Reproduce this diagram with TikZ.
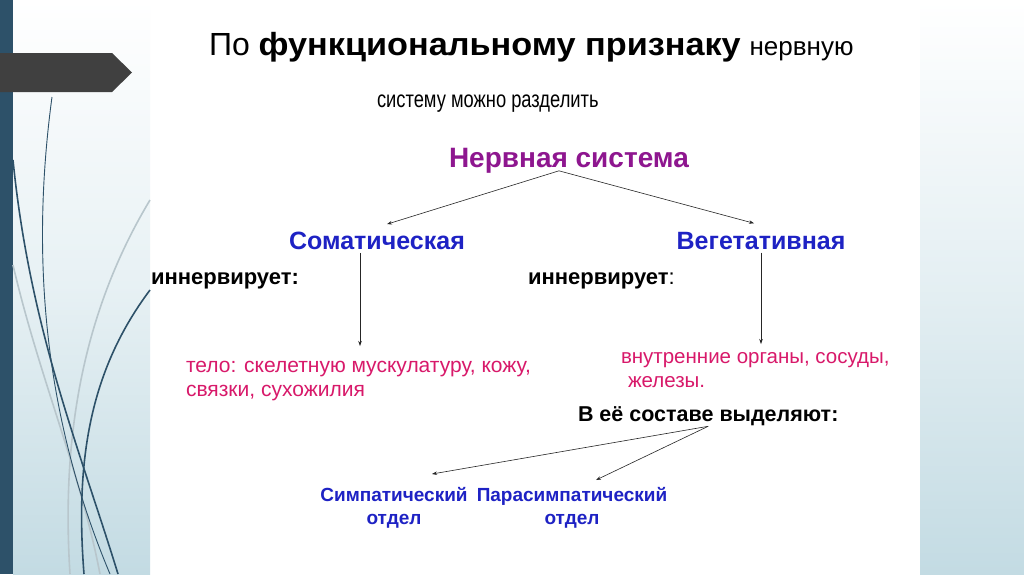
\documentclass[tikz,border=0pt]{standalone}
\usepackage{fontspec}
\setmainfont{Liberation Sans}
\newfontfamily\nar[FakeStretch=0.78]{Liberation Sans}
\newfontfamily\wid[FakeStretch=1.07]{Liberation Sans}
\usetikzlibrary{arrows.meta}
\definecolor{teal}{HTML}{2D5169}
\definecolor{arrowgrey}{HTML}{404040}
\definecolor{bgblue}{HTML}{C3DBE3}
\definecolor{purp}{HTML}{8E168F}
\definecolor{blu}{HTML}{1E22C4}
\definecolor{pnk}{HTML}{D8196A}
\definecolor{lgrey}{HTML}{B8C6CC}
\tikzset{
  arr/.style={-{Stealth[length=5pt,width=3.5pt]}, line width=0.6pt, black!85},
  txt/.style={inner sep=0pt, outer sep=1pt},
  blue lbl/.style={txt, text=blu, font=\bfseries\fontsize{25}{28}\selectfont},
  pink lbl/.style={txt, text=pnk, align=left, font=\fontsize{21}{24.5}\selectfont},
  black lbl/.style={txt, font=\bfseries\fontsize{22}{26}\selectfont},
  dept/.style={txt, text=blu, align=center, font=\bfseries\fontsize{19}{23}\selectfont},
  curve dark/.style={teal, line width=1.6pt},
  curve thin/.style={teal, line width=0.9pt},
  curve light/.style={lgrey, line width=1.6pt}
}
\begin{document}
\begin{tikzpicture}[x=1pt,y=-1pt]
\useasboundingbox (0,0) rectangle (1024,574);
% backgrounds
\fill[white] (0,0) rectangle (1024,574);
\shade[top color=white, bottom color=bgblue, middle color=white!60!bgblue] (13,0) rectangle (150,574);
\shade[top color=white, bottom color=bgblue, middle color=white!55!bgblue] (920,0) rectangle (1024,574);
\fill[teal] (0,0) rectangle (13,574);
% decorative curves
\draw[curve light] (150,200) .. controls (90,300) and (60,420) .. (70,574);
\draw[curve light] (13,265) .. controls (40,380) and (80,470) .. (100,574);
\draw[curve thin] (52,97) .. controls (30,260) and (45,420) .. (110,574);
\draw[curve dark] (13,160) .. controls (30,330) and (80,450) .. (118,574);
\draw[curve dark] (150,290) .. controls (90,370) and (75,460) .. (84,574);
% grey arrow banner
\fill[arrowgrey] (0,53) -- (112,53) -- (132,72.5) -- (112,92) -- (0,92) -- cycle;
% texts
\node[txt, anchor=base west, font=\fontsize{32}{36}\selectfont] (t1) at (208,55) {По {\wid\bfseries функциональному признаку} {\fontsize{26}{30}\selectfont нервную}};
\node[txt, anchor=base west, font=\nar\fontsize{23.5}{26}\selectfont] (t2) at (376,107) {систему можно разделить};
\node[txt, anchor=base west, text=purp, font=\bfseries\fontsize{28}{32}\selectfont] (ns) at (448,167) {Нервная система};
\node[blue lbl] (som) at (377,241) {Соматическая};
\node[blue lbl] (veg) at (761,241) {Вегетативная};
\node[black lbl, anchor=base west] (inn1) at (150,284) {иннервирует:};
\node[black lbl, anchor=base west] (inn2) at (527,284) {иннервирует{\mdseries:}};
\node[pink lbl, anchor=north west] (telo) at (185,360) {тело: скелетную мускулатуру, кожу,\\связки, сухожилия};
\node[pink lbl, anchor=north west, font=\fontsize{20.5}{24.5}\selectfont] (org) at (620,351) {внутренние органы, сосуды,\\\hspace*{7pt}железы.};
\node[black lbl, anchor=base west, font=\bfseries\fontsize{21.5}{26}\selectfont] (sost) at (577,421) {В её составе выделяют:};
\node[dept, anchor=north] (sym) at (394,486) {Симпатический\\отдел};
\node[dept, anchor=north] (par) at (572,486) {Парасимпатический\\отдел};
% connectors
\path (ns.south) ++(-10pt,3pt) coordinate (nsb);
\draw[arr] (nsb) -- ([xshift=10pt,yshift=7pt]som.north);
\draw[arr] (nsb) -- ([xshift=-7pt,yshift=8pt]veg.north);
\path (som.south) ++(-17pt,-2pt) coordinate (s1);
\path (s1 |- telo.north) ++(0pt,14pt) coordinate (s2);
\draw[arr] (s1) -- (s2);
\path (veg.south) ++(0pt,-2pt) coordinate (v1);
\path (v1 |- org.north) ++(0pt,7pt) coordinate (v2);
\draw[arr] (v1) -- (v2);
\coordinate (sb) at (sost.south);
\draw[arr] (sb) -- ([xshift=38pt,yshift=12pt]sym.north);
\draw[arr] (sb) -- ([xshift=24pt,yshift=6pt]par.north);
\end{tikzpicture}
\end{document}
